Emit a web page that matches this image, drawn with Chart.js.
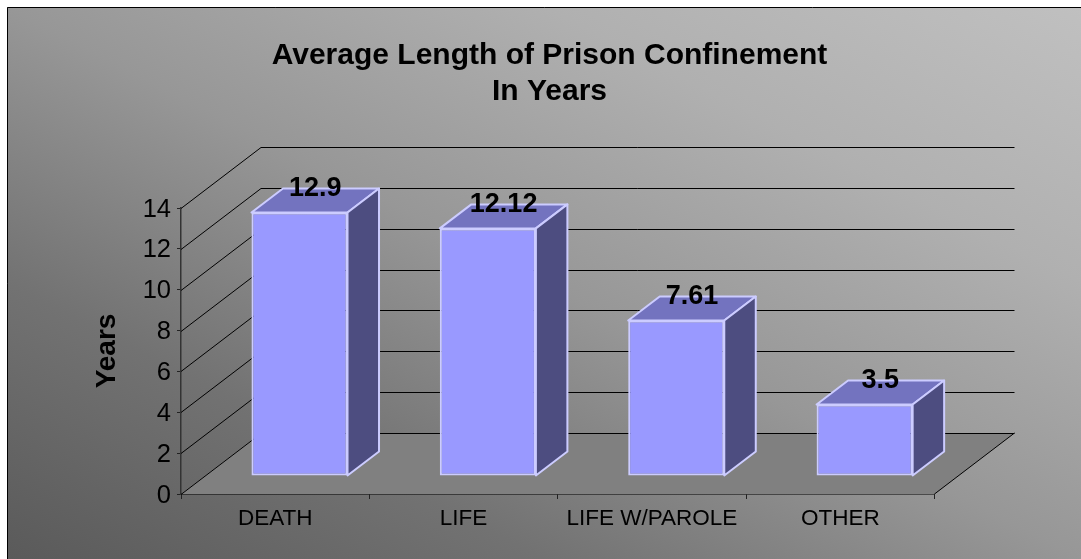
<!DOCTYPE html>
<html>
<head>
<meta charset="utf-8">
<style>html,body{margin:0;padding:0;background:#fff}canvas{display:block}</style>
<script src="https://cdn.jsdelivr.net/npm/chart.js@4"></script>
</head>
<body>
<canvas id="c" width="1081" height="559"></canvas>
<script>
const categories = ['DEATH', 'LIFE', 'LIFE W/PAROLE', 'OTHER'];
const years = [12.9, 12.12, 7.61, 3.5];
const titleLines = ['Average Length of Prison Confinement', 'In Years'];
const yAxisTitle = 'Years';

const FONT = '"Liberation Sans", Arial, sans-serif';
const WALL = {dx: 80, dy: -61};
const BAR_SHIFT = {x: 24.3, y: -18};
const BAR_DEPTH = {dx: 31.5, dy: -24};
const EDGE = '#ccccff';

const scene = {
  id: 'scene',
  beforeDraw(chart) {
    const {ctx, width, height} = chart;
    ctx.save();
    ctx.fillStyle = '#fff';
    ctx.fillRect(0, 0, width, height);
    const g = ctx.createLinearGradient(320, 720, 768, -154);
    g.addColorStop(0, '#5a5a5a');
    g.addColorStop(0.25, '#727272');
    g.addColorStop(0.5, '#979797');
    g.addColorStop(0.75, '#b0b0b0');
    g.addColorStop(1, '#c0c0c0');
    ctx.fillStyle = g;
    ctx.fillRect(7, 7, width - 7, height - 7);
    ctx.strokeStyle = '#000';
    ctx.lineWidth = 1;
    ctx.beginPath();
    ctx.moveTo(7.5, height);
    ctx.lineTo(7.5, 7.5);
    ctx.lineTo(width, 7.5);
    ctx.stroke();
    ctx.restore();
  },
  beforeDatasetsDraw(chart) {
    const {ctx, chartArea: a, scales: {y}} = chart;
    const y0 = y.getPixelForValue(0);
    ctx.save();
    ctx.fillStyle = '#808080';
    ctx.beginPath();
    ctx.moveTo(a.left, y0);
    ctx.lineTo(a.left + WALL.dx, y0 + WALL.dy);
    ctx.lineTo(a.right + WALL.dx, y0 + WALL.dy);
    ctx.lineTo(a.right, y0);
    ctx.closePath();
    ctx.fill();
    ctx.strokeStyle = '#000';
    ctx.lineWidth = 1;
    y.ticks.forEach(t => {
      const py = Math.round(y.getPixelForValue(t.value)) + 0.5;
      ctx.beginPath();
      ctx.moveTo(a.left, py);
      ctx.lineTo(a.left + WALL.dx, py + WALL.dy);
      ctx.lineTo(a.right + WALL.dx, py + WALL.dy);
      ctx.stroke();
    });
    ctx.beginPath();
    ctx.moveTo(a.right, y0);
    ctx.lineTo(a.right + WALL.dx, y0 + WALL.dy);
    ctx.stroke();
    ctx.restore();

    ctx.save();
    ctx.translate(BAR_SHIFT.x, BAR_SHIFT.y);
    const {dx, dy} = BAR_DEPTH;
    chart.getDatasetMeta(0).data.forEach(b => {
      const l = b.x - b.width / 2, r = b.x + b.width / 2, t = b.y, bt = b.base;
      ctx.lineWidth = 2;
      ctx.lineJoin = 'round';
      ctx.strokeStyle = EDGE;
      ctx.fillStyle = '#7373bf';
      ctx.beginPath();
      ctx.moveTo(l, t); ctx.lineTo(l + dx, t + dy); ctx.lineTo(r + dx, t + dy); ctx.lineTo(r, t);
      ctx.closePath(); ctx.fill(); ctx.stroke();
      ctx.fillStyle = '#4d4d80';
      ctx.beginPath();
      ctx.moveTo(r, t); ctx.lineTo(r + dx, t + dy); ctx.lineTo(r + dx, bt + dy); ctx.lineTo(r, bt);
      ctx.closePath(); ctx.fill(); ctx.stroke();
    });
  },
  afterDatasetsDraw(chart) {
    const {ctx} = chart;
    ctx.restore();
    ctx.save();
    ctx.fillStyle = '#000';
    ctx.font = 'bold 27px ' + FONT;
    ctx.textAlign = 'center';
    ctx.textBaseline = 'middle';
    chart.getDatasetMeta(0).data.forEach((b, i) => {
      ctx.fillText(String(years[i]), b.x + BAR_SHIFT.x + BAR_DEPTH.dx / 2, b.y + BAR_SHIFT.y - 24);
    });
    ctx.restore();
  }
};

new Chart(document.getElementById('c'), {
  type: 'bar',
  data: {
    labels: categories,
    datasets: [{
      label: yAxisTitle,
      data: years,
      backgroundColor: '#9999ff',
      borderColor: EDGE,
      borderWidth: 2,
      borderSkipped: false,
      categoryPercentage: 1,
      barPercentage: 0.51
    }]
  },
  plugins: [scene],
  options: {
    responsive: false,
    animation: false,
    layout: {padding: {left: 18, right: 0, top: 0, bottom: 0}},
    plugins: {
      legend: {display: false},
      tooltip: {enabled: false},
      title: {
        display: true,
        text: titleLines,
        color: '#000',
        font: {family: FONT, size: 30, weight: 'bold', lineHeight: 1.2},
        padding: {top: 38, bottom: 98}
      }
    },
    scales: {
      x: {
        grid: {drawOnChartArea: false, color: '#222', tickLength: 5},
        border: {color: '#000', width: 1.5},
        ticks: {color: '#000', font: {family: FONT, size: 22.5}, padding: 6, maxRotation: 0, autoSkip: false},
        afterFit: s => { s.height = 65; }
      },
      y: {
        min: 0,
        max: 14,
        grid: {drawOnChartArea: false, color: '#222', tickLength: 4},
        border: {color: '#333', width: 1.5},
        ticks: {color: '#000', stepSize: 2, font: {family: FONT, size: 25.5}, padding: 6, labelOffset: 1.5},
        title: {display: true, text: yAxisTitle, color: '#000', font: {family: FONT, size: 28, weight: 'bold'}, padding: {top: 72, bottom: 0}},
        afterFit: s => { s.width = 163; }
      },
      spacer: {
        type: 'linear',
        position: 'right',
        grid: {display: false},
        border: {display: false},
        ticks: {display: false},
        afterFit: s => { s.width = 146.5; }
      }
    }
  }
});
</script>
</body>
</html>
